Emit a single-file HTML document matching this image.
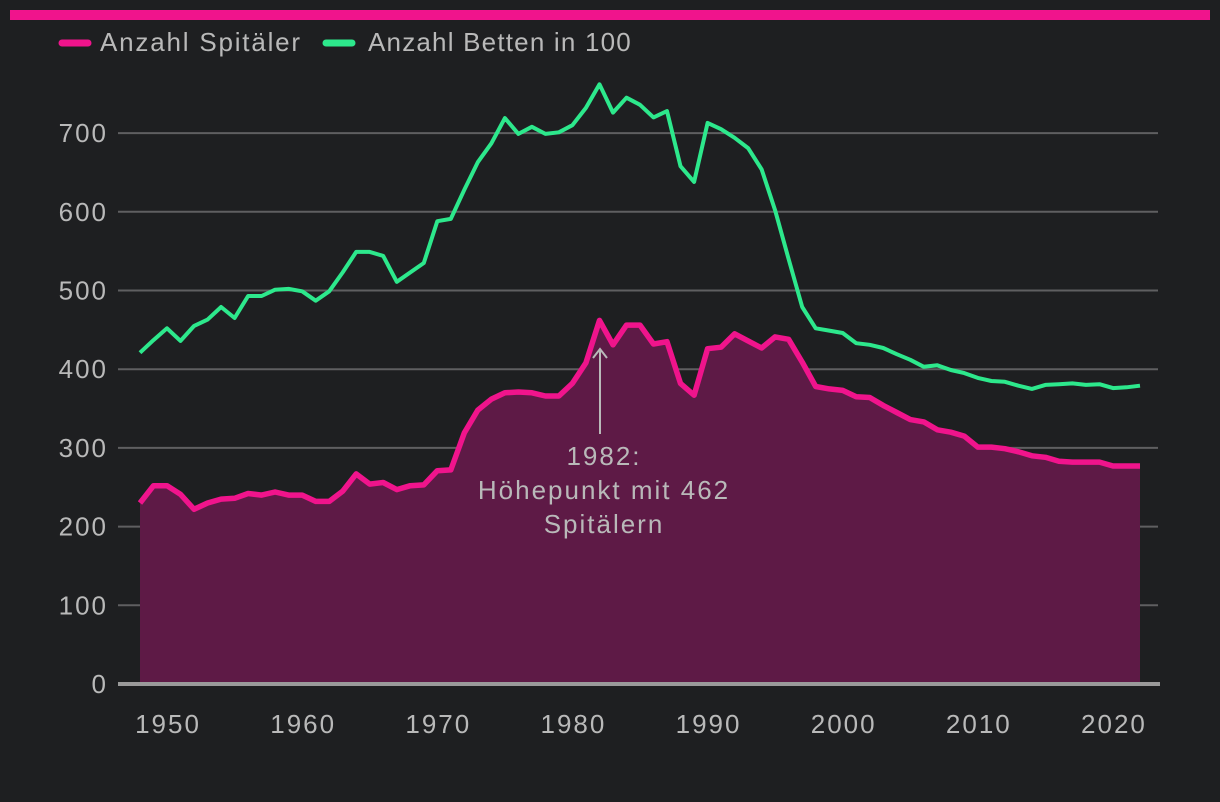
<!DOCTYPE html>
<html><head><meta charset="utf-8"><style>
html,body{margin:0;padding:0;background:#1e1f21;}
svg{display:block;font-family:"Liberation Sans",sans-serif;}
</style></head><body>
<svg id="chart" width="1220" height="802" viewBox="0 0 1220 802">
<rect x="0" y="0" width="1220" height="802" fill="#1e1f21"/>
<rect x="10" y="10" width="1200" height="10" fill="#f0148c"/>
<g>
<line x1="62" y1="43" x2="88" y2="43" stroke="#f0148c" stroke-width="7" stroke-linecap="round"/>
<text x="100" y="51" font-size="26" letter-spacing="1.8" fill="#b9b9b9">Anzahl Spitäler</text>
<line x1="326" y1="43" x2="352" y2="43" stroke="#2de88c" stroke-width="7" stroke-linecap="round"/>
<text x="368" y="51" font-size="26" letter-spacing="1.2" fill="#b9b9b9">Anzahl Betten in 100</text>
</g>
<g id="grid"></g>
<g id="yticks"></g>
<g id="xticks"></g>
<g id="series"></g>
<g>
<line x1="600" y1="434" x2="600" y2="349" stroke="#b9b9b9" stroke-width="2"/>
<polyline points="593,358 600,349 607,358" fill="none" stroke="#b9b9b9" stroke-width="2"/>
<text x="604" y="465" font-size="26" letter-spacing="2" fill="#b9b9b9" text-anchor="middle"><tspan x="604">1982:</tspan><tspan x="604" dy="34">Höhepunkt mit 462</tspan><tspan x="604" dy="34">Spitälern</tspan></text>
</g>
</svg>
<script>
const years = [];
for (let y = 1948; y <= 2022; y++) years.push(y);
const spitaeler = [230,252,252,241,222,230,235,236,242,240,244,240,240,232,232,245,267,254,256,247,252,253,271,272,319,348,362,370,371,370,366,366,382,408,462,431,456,456,432,435,382,367,426,428,445,436,427,441,438,409,378,375,373,365,364,354,345,336,333,323,320,315,301,301,299,295,290,288,283,282,282,282,277,277,277];
const betten = [421,437,452,436,455,463,479,465,493,493,501,502,499,487,499,523,549,549,544,511,523,535,588,591,628,663,687,719,699,708,699,701,710,732,762,726,745,736,720,728,658,638,713,705,694,681,654,602,540,479,452,449,446,433,431,427,419,412,403,405,399,395,389,385,384,379,375,380,381,382,380,381,376,377,379];
const yTicks = [0,100,200,300,400,500,600,700];
const xTicks = [1950,1960,1970,1980,1990,2000,2010,2020];

const NS = "http://www.w3.org/2000/svg";
const xS = v => 140 + (v - 1948) * (1000 / 74);
const yS = v => 684 - v * 0.787;
function mk(tag, attrs, parent) {
  const e = document.createElementNS(NS, tag);
  for (const k in attrs) e.setAttribute(k, attrs[k]);
  parent.appendChild(e);
  return e;
}
const grid = document.getElementById('grid');
const yt = document.getElementById('yticks');
const xt = document.getElementById('xticks');
const ser = document.getElementById('series');
yTicks.forEach(t => {
  if (t > 0) {
    const l = mk('line', {x1:118, x2:1158, y1:yS(t), y2:yS(t), stroke:'#5f5f61', 'stroke-width':2}, grid);
    
    
  }
  const tx = mk('text', {x:108, y:yS(t) + 9, 'font-size':26, 'letter-spacing':2, fill:'#b9b9b9', 'text-anchor':'end'}, yt);
  tx.textContent = t;
  
  
});
xTicks.forEach(t => {
  const tx = mk('text', {x:xS(t) + 1, y:733, 'font-size':26, 'letter-spacing':2, fill:'#b9b9b9', 'text-anchor':'middle'}, xt);
  tx.textContent = t;
  
  
});
const ptsS = years.map((y, i) => xS(y).toFixed(1) + ',' + yS(spitaeler[i]).toFixed(1));
const ptsB = years.map((y, i) => xS(y).toFixed(1) + ',' + yS(betten[i]).toFixed(1));
const area = mk('polygon', {points: xS(years[0]) + ',' + yS(0) + ' ' + ptsS.join(' ') + ' ' + xS(years[years.length-1]) + ',' + yS(0), fill:'#5e1a46'}, ser);


const base = mk('line', {x1:118, x2:1160, y1:yS(0), y2:yS(0), stroke:'#9a9a9a', 'stroke-width':4}, ser);


const lb = mk('polyline', {points: ptsB.join(' '), fill:'none', stroke:'#2de88c', 'stroke-width':4, 'stroke-linejoin':'round'}, ser);


const ls = mk('polyline', {points: ptsS.join(' '), fill:'none', stroke:'#f0148c', 'stroke-width':5.5, 'stroke-linejoin':'round'}, ser);


</script>
</body></html>
